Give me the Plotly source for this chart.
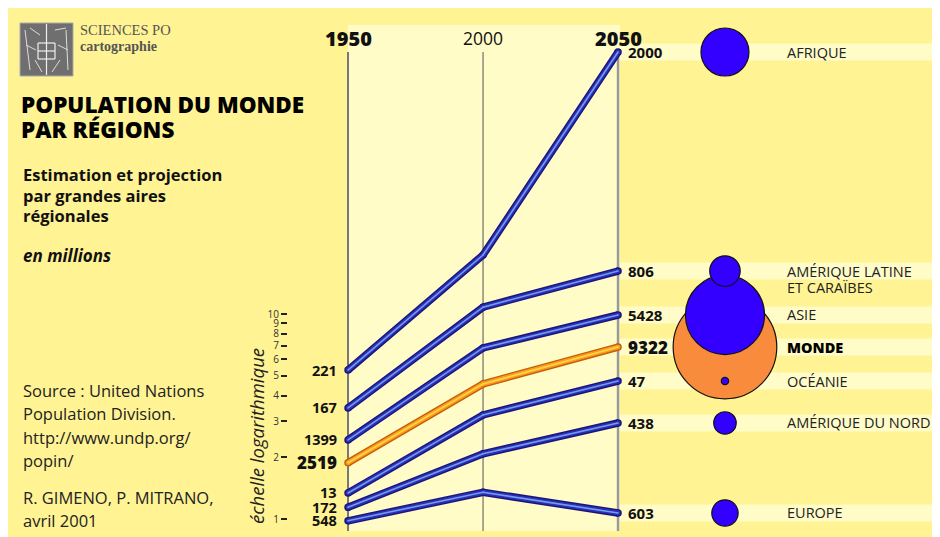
import math
import plotly.graph_objects as go

# ---------------- data ----------------
years = [1950, 2000, 2050]
regions = ["AFRIQUE", "AMÉRIQUE LATINE<br>ET CARAÏBES", "ASIE", "MONDE",
           "OCÉANIE", "AMÉRIQUE DU NORD", "EUROPE"]
pop_1950 = [221, 167, 1399, 2519, 13, 172, 548]
pop_2050 = [2000, 806, 5428, 9322, 47, 438, 603]
# positions of each line on the logarithmic scale
scale_1950 = [5.33, 3.48, 2.43, 1.88, 1.34, 1.14, 0.98]
scale_2000 = [19.4, 10.8, 6.83, 4.56, 3.22, 2.08, 1.35]
scale_2050 = [189.7, 16.2, 9.89, 6.90, 4.71, 2.94, 1.07]
log_ticks = [1, 2, 3, 4, 5, 6, 7, 8, 9, 10]

# ---------------- style ----------------
W, H = 940, 537
OFF = 8  # page margin of the browser
X_RANGE = [1824.07, 2172.2]
Y_RANGE = [-0.1268, 2.4927]
YELLOW = "#FFF394"
LIGHT = "#FFFCC8"
FONT = "Open Sans"
CIRCLE_X = 2089.6


def px(x):
    return (x - OFF) / W


def py(y):
    return 1 - (y - OFF) / H


def ypaper(v):
    return (math.log10(v) - Y_RANGE[0]) / (Y_RANGE[1] - Y_RANGE[0])


fig = go.Figure()

shapes = []
# light panel
shapes.append(dict(type="rect", xref="paper", yref="paper", x0=px(348), x1=px(620), y0=py(531), y1=py(25),
                   fillcolor=LIGHT, line_width=0, layer="below"))
# light stripes at each 2050 value
for v in scale_2050:
    yc = ypaper(v)
    shapes.append(dict(type="rect", xref="paper", yref="paper", x0=px(620), x1=1,
                       y0=yc - 8.5 / H, y1=yc + 8.5 / H,
                       fillcolor=LIGHT, line_width=0, layer="below"))
# year lines
for yr, col, w in zip(years, ["#777777", "#555555", "#9A9A9A"], [2, 1, 2.5]):
    shapes.append(dict(type="line", xref="x", yref="paper", x0=yr, x1=yr, y0=py(531), y1=py(52),
                       line=dict(color=col, width=w), layer="below"))
# logo
shapes.append(dict(type="rect", xref="paper", yref="paper", x0=px(20), x1=px(73), y0=py(76), y1=py(23),
                   fillcolor="#6F6F6F", line=dict(color="#AAAAAA", width=1), layer="above"))
for (x0, y0, x1, y1) in [(46.5, 24, 46.5, 75), (38, 43, 55, 43), (38, 51, 55, 51), (38, 59, 55, 59),
                         (38, 43, 38, 59), (55, 43, 55, 59)]:
    shapes.append(dict(type="line", xref="paper", yref="paper", x0=px(x0), x1=px(x1), y0=py(y0), y1=py(y1),
                       line=dict(color="#EEEEEE", width=1.2)))
for (x0, y0, x1, y1) in [(25, 30, 30, 70), (30, 28, 40, 35), (35, 60, 42, 72), (55, 30, 66, 28),
                         (66, 30, 68, 70), (60, 60, 52, 72), (26, 45, 36, 50), (58, 45, 68, 50)]:
    shapes.append(dict(type="line", xref="paper", yref="paper", x0=px(x0), x1=px(x1), y0=py(y0), y1=py(y1),
                       line=dict(color="#DDDDDD", width=1)))

# lines
for i, reg in enumerate(regions):
    ys = [scale_1950[i], scale_2000[i], scale_2050[i]]
    if reg == "MONDE":
        cols = ["#C0600A", "#FF9A1E", "#FFD84A"]
    else:
        cols = ["#1C1478", "#2E2EB8", "#6CA0E8"]
    for col, w in zip(cols, [7.5, 4.8, 1.6]):
        fig.add_trace(go.Scatter(x=years, y=ys, mode="lines+markers",
                                 line=dict(color=col, width=w),
                                 marker=dict(color=col, size=w, line_width=0),
                                 hoverinfo="skip", showlegend=False))

# circles sized by 2050 population
order = sorted(range(len(regions)), key=lambda i: -pop_2050[i])
fig.add_trace(go.Scatter(
    x=[CIRCLE_X] * len(order),
    y=[scale_2050[i] for i in order],
    mode="markers",
    marker=dict(size=[48 * math.sqrt(pop_2050[i] / 2000) for i in order],
                sizemode="diameter",
                color=["#F98B3C" if regions[i] == "MONDE" else "#3300FF" for i in order],
                line=dict(color="#111111", width=1.2), opacity=1),
    hoverinfo="skip", showlegend=False))

ann = []


def text(x, y, s, size, weight=400, style="normal", color="#111111", family=FONT, anchor="left"):
    ann.append(dict(x=px(x), y=py(y), xref="paper", yref="paper", text=s, showarrow=False,
                    xanchor=anchor, yanchor="middle", align="left",
                    font=dict(family=family, size=size, color=color, weight=weight, style=style)))


# year headers
for yr, bold in zip(years, [True, False, True]):
    ann.append(dict(x=yr, y=py(38), xref="x", yref="paper", text=str(yr), showarrow=False,
                    xanchor="center", yanchor="middle",
                    font=dict(family=FONT, size=20 if bold else 17.5, color="#111111",
                              weight=800 if bold else 400)))
# values
for i, reg in enumerate(regions):
    big = reg == "MONDE"
    ann.append(dict(x=1950, y=math.log10(scale_1950[i]), xref="x", yref="y", text=str(pop_1950[i]),
                    showarrow=False, xanchor="right", yanchor="middle", xshift=-9,
                    font=dict(family=FONT, size=17 if big else 14.5, color="#111111", weight=800 if big else 700)))
    ann.append(dict(x=2050, y=math.log10(scale_2050[i]), xref="x", yref="y", text=str(pop_2050[i]),
                    showarrow=False, xanchor="left", yanchor="middle", xshift=8,
                    font=dict(family=FONT, size=17 if big else 15, color="#111111", weight=800 if big else 700)))
    for k, part in enumerate(reg.split("<br>")):
        ann.append(dict(x=px(785), y=math.log10(scale_2050[i]), xref="paper", yref="y", text=part,
                        showarrow=False, xanchor="left", yanchor="middle", yshift=-16 * k, align="left",
                        font=dict(family=FONT, size=14.5, color="#222222" if not big else "#000000",
                                  weight=800 if big else 400)))

# left texts
text(78, 30, "SCIENCES PO", 14.5, color="#555555", family="Liberation Serif")
text(78, 46, "cartographie", 14, weight=700, color="#555555", family="Liberation Serif")
text(19, 104, "POPULATION DU MONDE", 22.5, weight=800, color="#000000")
text(19, 130, "PAR RÉGIONS", 22.5, weight=800, color="#000000")
text(21, 175, "Estimation et projection", 16.5, weight=700)
text(21, 195, "par grandes aires", 16.5, weight=700)
text(21, 215, "régionales", 16.5, weight=700)
text(21, 256, "en millions", 17, weight=700, style="italic")
for yy, s in zip([390, 413, 437, 460, 497, 520],
                 ["Source : United Nations", "Population Division.", "http://www.undp.org/", "popin/",
                  "R. GIMENO, P. MITRANO,", "avril 2001"]):
    text(21, yy, s, 16.5, color="#222222")
ann.append(dict(x=px(256), y=py(436), xref="paper", yref="paper", text="échelle logarithmique",
                showarrow=False, textangle=-90, xanchor="center", yanchor="middle",
                font=dict(family=FONT, size=18.5, color="#222222", style="italic")))

fig.update_layout(
    width=W, height=H, margin=dict(l=0, r=0, t=0, b=0),
    paper_bgcolor=YELLOW, plot_bgcolor="rgba(0,0,0,0)",
    shapes=shapes, annotations=ann, showlegend=False,
    xaxis=dict(range=X_RANGE, visible=False, fixedrange=True),
    yaxis=dict(type="log", range=Y_RANGE, anchor="free", position=(287 - OFF) / W,
               tickvals=log_ticks, ticktext=[str(t) for t in log_ticks],
               ticks="outside", ticklen=6, tickwidth=1.5, tickcolor="#222222",
               showline=False, showgrid=False, zeroline=False, automargin=False,
               tickfont=dict(family=FONT, size=10, color="#333333"), fixedrange=True),
)

fig.write_html("out.html")
